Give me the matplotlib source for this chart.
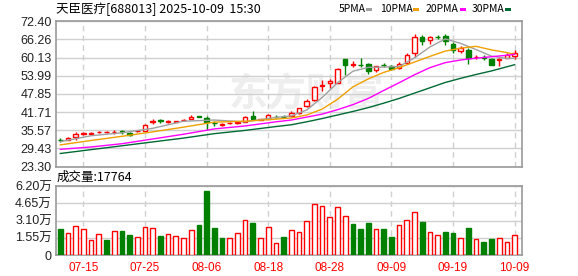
import matplotlib
matplotlib.use("Agg")
import matplotlib.pyplot as plt
import numpy as np
from matplotlib.patches import Rectangle

# ---------------- data ----------------
dates = ["07-10", "07-11", "07-14", "07-15", "07-16", "07-17", "07-18", "07-21", "07-22", "07-23",
         "07-24", "07-25", "07-28", "07-29", "07-30", "07-31", "08-01", "08-04", "08-05", "08-06",
         "08-07", "08-08", "08-11", "08-12", "08-13", "08-14", "08-15", "08-18", "08-19", "08-20",
         "08-21", "08-22", "08-25", "08-26", "08-27", "08-28", "08-29", "09-01", "09-02", "09-03",
         "09-04", "09-05", "09-08", "09-09", "09-10", "09-11", "09-12", "09-15", "09-16", "09-17",
         "09-18", "09-19", "09-22", "09-23", "09-24", "09-25", "09-26", "09-29", "09-30", "10-09"]

opens = [32.4, 32.25, 33.15, 34.3, 34.4, 34.8, 34.9, 34.8, 35.3, 34.7,
         35.2, 35.4, 38.4, 38.9, 38.4, 38.5, 38.9, 39.3, 40.2, 39.8,
         38.0, 37.4, 38.0, 37.9, 38.45, 40.5, 39.1, 39.5, 40.15, 40.15,
         40.5, 41.3, 43.7, 45.75, 50.5, 51.4, 51.6, 59.5, 57.7, 57.6,
         58.1, 55.9, 57.6, 57.2, 56.6, 58.3, 61.8, 67.1, 66.2, 67.2,
         67.4, 64.85, 62.4, 62.6, 60.15, 60.2, 59.6, 59.4, 60.1, 60.6]
highs = [33.0, 33.4, 35.1, 35.1, 35.0, 35.3, 35.2, 35.6, 35.6, 35.1,
         35.7, 37.7, 39.2, 39.5, 39.0, 38.8, 39.2, 40.6, 40.4, 40.4,
         38.6, 37.9, 38.3, 38.3, 40.4, 42.2, 39.4, 41.2, 40.6, 40.6,
         42.0, 43.2, 46.0, 50.4, 52.5, 53.0, 56.6, 59.6, 59.0, 60.1,
         58.3, 57.3, 58.3, 57.5, 58.7, 61.7, 68.2, 67.7, 67.4, 67.9,
         68.0, 65.4, 63.9, 63.2, 61.0, 61.0, 60.0, 60.1, 61.5, 62.8]
lows = [31.7, 32.1, 32.25, 33.8, 34.0, 34.5, 34.6, 34.3, 34.4, 33.7,
        35.0, 35.3, 37.7, 37.9, 38.0, 38.3, 38.7, 39.2, 39.9, 35.5,
        37.0, 37.0, 37.8, 37.7, 38.2, 39.0, 38.9, 39.4, 39.6, 39.7,
        40.3, 41.0, 43.5, 45.5, 48.9, 49.7, 51.4, 54.2, 57.0, 57.0,
        54.7, 55.3, 56.8, 55.9, 56.4, 58.1, 60.4, 64.3, 64.8, 66.3,
        64.5, 61.5, 61.8, 57.8, 59.5, 59.2, 57.6, 57.3, 59.9, 59.6]
closes = [32.3, 33.0, 34.3, 34.6, 34.6, 35.0, 35.0, 35.0, 35.1, 34.05,
          35.4, 37.3, 38.7, 38.7, 38.6, 38.6, 39.05, 40.1, 40.1, 38.3,
          37.9, 37.5, 38.15, 38.2, 40.0, 39.35, 39.25, 40.8, 40.05, 40.05,
          41.5, 42.9, 45.5, 50.0, 51.0, 52.15, 56.1, 57.5, 57.9, 57.45,
          55.6, 57.2, 57.45, 56.3, 58.1, 60.9, 67.1, 65.8, 66.9, 67.05,
          65.7, 62.6, 63.2, 60.1, 60.3, 60.05, 57.7, 59.7, 61.0, 61.7]

# volume in 万手, and whether the bar is drawn red (up) or green
volumes = [2.34, 1.95, 2.57, 2.34, 1.35, 1.86, 1.35, 2.13, 2.16, 1.80,
           1.59, 2.51, 2.40, 1.71, 1.86, 1.68, 1.50, 2.25, 2.69, 5.75,
           2.43, 1.53, 1.53, 1.95, 3.14, 2.87, 1.53, 2.51, 1.05, 1.62,
           2.25, 2.04, 3.02, 4.55, 4.37, 3.38, 4.28, 3.47, 2.75, 2.34,
           2.84, 2.31, 2.34, 1.62, 2.66, 3.11, 3.83, 2.96, 2.04, 1.77,
           2.07, 1.95, 1.50, 2.43, 1.41, 1.17, 1.44, 1.50, 1.14, 1.7764]
vol_up = [0, 1, 1, 1, 1, 1, 0, 1, 0, 0,
          1, 1, 1, 0, 1, 1, 1, 1, 0, 0,
          0, 0, 1, 1, 1, 0, 1, 1, 1, 0,
          1, 1, 1, 1, 1, 1, 1, 1, 0, 0,
          0, 1, 0, 0, 1, 1, 1, 0, 1, 1,
          0, 0, 1, 0, 1, 0, 0, 1, 1, 1]

# moving averages, read at these bar positions
ma_idx = [0, 4, 8, 12, 16, 20, 24, 28, 30, 32, 34, 36, 38, 40, 42, 44, 46, 48, 50, 52, 54, 56, 58, 59]
ma5 = [31.7, 33.7, 34.7, 36.2, 38.6, 39.0, 38.4, 39.9, 40.4, 42.4, 46.6, 51.6,
       55.5, 56.8, 56.9, 57.1, 60.0, 63.7, 66.4, 64.9, 62.8, 60.6, 59.8, 59.9]
ma10 = [30.6, 32.1, 33.5, 35.0, 36.6, 38.3, 38.6, 39.3, 39.7, 40.7, 42.7, 46.0,
        50.2, 52.9, 55.1, 56.7, 58.6, 60.5, 62.3, 63.3, 63.9, 62.7, 61.8, 61.2]
ma20 = [29.1, 29.9, 31.0, 32.6, 34.2, 36.0, 37.0, 38.4, 39.0, 40.0, 41.0, 42.5,
        44.2, 46.3, 49.0, 51.6, 54.3, 56.7, 58.4, 59.3, 59.9, 60.4, 60.9, 61.2]
ma30 = [27.7, 29.0, 30.3, 31.6, 32.9, 34.4, 35.5, 36.8, 37.4, 38.4, 39.5, 40.7,
        41.9, 43.2, 44.7, 46.3, 48.1, 49.9, 51.7, 53.1, 54.4, 55.6, 57.0, 57.7]

price_ticks = [23.30, 29.43, 35.57, 41.71, 47.85, 53.99, 60.13, 66.26, 72.40]
vol_ticks = [0, 1.55, 3.10, 4.65, 6.20]
vol_labels = ["0", "1.55万", "3.10万", "4.65万", "6.20万"]
date_ticks = ["07-15", "07-25", "08-06", "08-18", "08-28", "09-09", "09-19", "10-09"]

# ---------------- drawing ----------------
plt.rcParams["font.family"] = ["Liberation Sans", "Noto Sans CJK SC"]

RED = "#ff0000"
GREEN = "#008000"
GRID = "#d0d0d0"
FRAME = "#999999"

fig = plt.figure(figsize=(5.78, 2.76), dpi=100)
ax = fig.add_axes([56 / 578, 1 - 166.5 / 276, 466 / 578, 145.3 / 276])
axv = fig.add_axes([56 / 578, 1 - 255 / 276, 466 / 578, 69 / 276])

x = np.arange(len(dates))
o = np.array(opens)
c = np.array(closes)
up = c >= o
tick_pos = [dates.index(d) for d in date_ticks]

# price panel
ax.vlines(x, lows, highs, colors=np.where(up, RED, GREEN), linewidth=1, zorder=3)
body_h = np.maximum(np.abs(c - o), 0.12)
ax.bar(x, body_h, bottom=np.minimum(o, c), width=0.58,
       color=np.where(up, "white", GREEN), edgecolor=np.where(up, RED, GREEN),
       linewidth=1, zorder=4)

ax.plot(ma_idx, ma5, color="#a0a0a0", lw=1, zorder=5)
ax.plot(ma_idx, ma10, color="#f0a000", lw=1, zorder=5)
ax.plot(ma_idx, ma20, color="#ff00ff", lw=1, zorder=5)
ax.plot(ma_idx, ma30, color="#006a35", lw=1, zorder=5)

ax.text(0.537, 0.49, "东方财富", transform=ax.transAxes, fontsize=28,
        color="#eeeeee", ha="center", va="center", fontweight="bold", zorder=0,
        family=["Noto Sans CJK SC"])

ax.set_ylim(23.30, 72.40)
ax.set_yticks(price_ticks)
ax.set_yticklabels(["%.2f" % t for t in price_ticks])

# volume panel
axv.bar(x, volumes, width=0.62,
        color=["white" if u else GREEN for u in vol_up],
        edgecolor=[RED if u else GREEN for u in vol_up], linewidth=1, zorder=3)
axv.set_ylim(0, 6.20)
axv.set_yticks(vol_ticks)
axv.set_yticklabels(vol_labels)
axv.set_xticks(tick_pos)
axv.set_xticklabels(date_ticks, color=RED, fontsize=8.5)

for a in (ax, axv):
    a.set_xlim(-0.56, 59.96)
    for yt in a.get_yticks():
        a.axhline(yt, color=GRID, lw=1, zorder=1)
    for tp in tick_pos:
        a.axvline(tp, color=GRID, lw=1, ls=(0, (4, 3)), zorder=1)
    for s in a.spines.values():
        s.set_color(FRAME)
        s.set_linewidth(1.2)
    a.tick_params(axis="y", length=0, pad=3, labelsize=9, colors="#222222")
    a.tick_params(axis="x", length=0, pad=5)
ax.set_xticks([])
axv.tick_params(axis="x", colors=RED)

# title, volume caption and legend
fig.text(56 / 578, 1 - 9 / 276, "天臣医疗[688013] 2025-10-09  15:30", fontsize=9,
         va="center", ha="left", family=["Noto Sans CJK SC"])
fig.text(57 / 578, 1 - 177.5 / 276, "成交量:17764", fontsize=9,
         va="center", ha="left", family=["Noto Sans CJK SC"])

legend = [("5PMA", "#a0a0a0", 338.7, 366), ("10PMA", "#f0a000", 379.7, 413),
          ("20PMA", "#ff00ff", 425.7, 460), ("30PMA", "#006a35", 471.7, 505)]
for name, col, tx, mx in legend:
    fig.text(tx / 578, 1 - 9.5 / 276, name, fontsize=7.5, va="center", ha="left",
             family=["Noto Sans CJK SC"])
    fig.add_artist(Rectangle((mx / 578, 1 - 11 / 276), 6 / 578, 3 / 276,
                             transform=fig.transFigure, color=col, lw=0))

fig.savefig("out.png", dpi=100)
